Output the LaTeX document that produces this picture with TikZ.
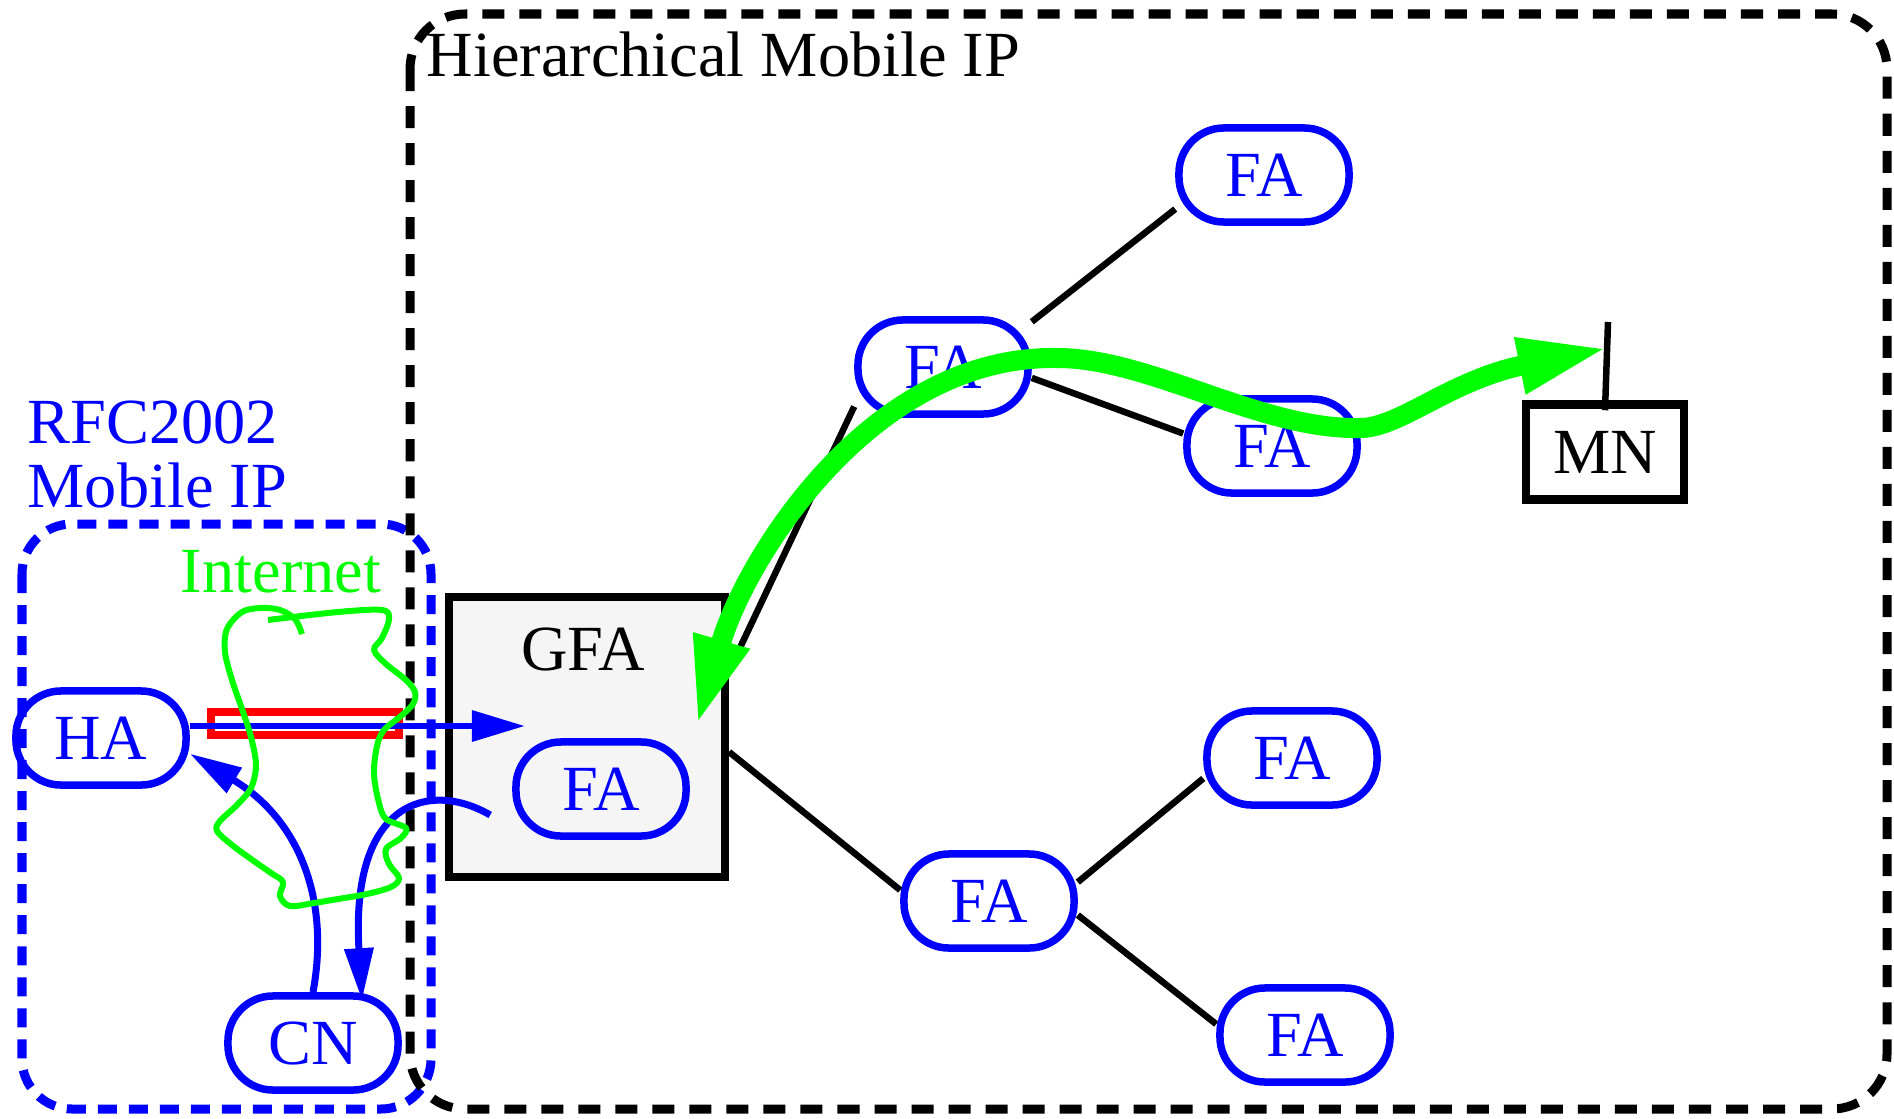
\documentclass[tikz,border=0pt]{standalone}
\usepackage{fontspec}
\setmainfont{Liberation Serif}
\usetikzlibrary{arrows.meta,calc}
\definecolor{pblue}{RGB}{0,0,255}
\definecolor{pgreen}{RGB}{0,255,0}
\definecolor{pred}{RGB}{255,0,0}
\definecolor{gfafill}{RGB}{245,245,245}
\begin{document}
\begin{tikzpicture}[x=0.01cm,y=-0.01cm,
  every node/.style={font=\fontsize{18.3}{20}\selectfont},
  agent/.style={draw=pblue, text=pblue, line width=0.075cm, rounded corners=0.45cm,
    minimum width=1.70cm, minimum height=0.94cm, inner sep=0pt},
  link/.style={draw=black, line width=0.065cm},
  bluearrow/.style={draw=pblue, line width=0.07cm, -{Triangle[length=0.52cm,width=0.28cm]}},
  label/.style={inner sep=0pt},
]
\useasboundingbox (0,0) rectangle (1894,1118);

% frames
\draw[pblue, line width=0.09cm, dash pattern=on 0.19cm off 0.12cm, rounded corners=0.5cm]
  (22,524) rectangle (431,1109);
\draw[black, line width=0.09cm, dash pattern=on 0.22cm off 0.15cm, rounded corners=0.55cm]
  (410,14) rectangle (1887,1109);

% texts
\node[label, anchor=base west, text=black] (hmip) at (426,76) {Hierarchical Mobile IP};
\node[label, anchor=base west, text=pblue] (rfc) at (27,443) {RFC2002};
\node[label, anchor=base west, text=pblue] (mip) at (27,507) {Mobile IP};

% GFA
\node[draw=black, fill=gfafill, line width=0.08cm, minimum width=2.76cm, minimum height=2.79cm,
  inner sep=0pt] (gfa) at (587,737) {};
\node[label, anchor=base] (gfalbl) at (583,670) {GFA};

% agents
\node[agent] (ha) at (101,738) {HA};
\node[agent] (cn) at (313,1043) {CN};
\node[agent] (fag) at (601,789) {FA};
\node[agent] (fat) at (1264,175) {FA};
\node[agent] (fam) at (943,367) {FA};
\node[agent] (far) at (1272,446) {FA};
\node[agent] (fal) at (989,901) {FA};
\node[agent] (fau) at (1292,758) {FA};
\node[agent] (fad) at (1305,1035) {FA};
\node[draw=black, line width=0.085cm, minimum width=1.58cm, minimum height=0.95cm, inner sep=0pt]
  (mn) at (1605,452) {MN};

% tree links
\draw[link] (gfa.25) -- (fam.204);
\draw[link] (fam.27) -- (fat.201);
\draw[link] (fam.-7) -- (far.172);
\draw[link] (gfa.-6) -- (fal.173);
\draw[link] (fal.12) -- (fau.193);
\draw[link] (fal.-9) -- (fad.173);
\coordinate (mntop) at (1608,322);
\draw[link] (mntop) -- ([yshift=-0.1cm]mn.north);

% tunnel
\node[draw=pred, line width=0.08cm, minimum width=1.87cm, minimum height=0.23cm, inner sep=0pt]
  (tun) at (305,723) {};
\coordinate (tunend) at (525,726);
\draw[pblue, line width=0.065cm, -{Triangle[length=0.53cm,width=0.30cm]}] (ha.east |- tunend) -- (tunend);

% blue curved arrows
\draw[bluearrow] (cn.north) .. controls (330,900) and (300,820) .. (ha.-10);
\draw[bluearrow] ([shift={(-22,26)}]fag.west) .. controls (430,780) and (350,800) .. ([shift={(49,8)}]cn.north);

% internet cloud
\draw[pgreen, line width=0.06cm, line join=round] plot[smooth, tension=0.55] coordinates {
 (268,620) (338,612) (382,610) (389,619) (382,638) (374,650) (386,664) (406,680) (415,692)
 (413,704) (401,716) (384,730) (377,746) (374,774) (379,803) (386,819) (406,828) (401,838)
 (386,849) (389,864) (399,878) (391,887) (367,894) (338,899) (314,903) (290,906) (280,896)
 (283,882) (271,873) (251,859) (232,845) (217,831) (220,821) (237,805) (251,788) (256,765)
 (251,737) (242,709) (232,680) (225,652) (227,629) (242,612) (261,608) (280,610) (295,619)
 (302,634)};
\node[label, anchor=base, text=pgreen] (inet) at (281,592) {Internet};

% green route arrow
\coordinate (gtipa) at (697,725);
\coordinate (gtipb) at (1608,348);
\draw[pgreen, line width=0.2cm,
  {Triangle[length=0.88cm,width=0.53cm]}-{Triangle[length=0.9cm,width=0.52cm]}]
  (gtipa) .. controls (745,560) and (870,355) .. (1057,358)
          .. controls (1150,358) and (1260,430) .. (1360,428)
          .. controls (1400,428) and (1450,380) .. (gtipb);
\end{tikzpicture}
\end{document}
